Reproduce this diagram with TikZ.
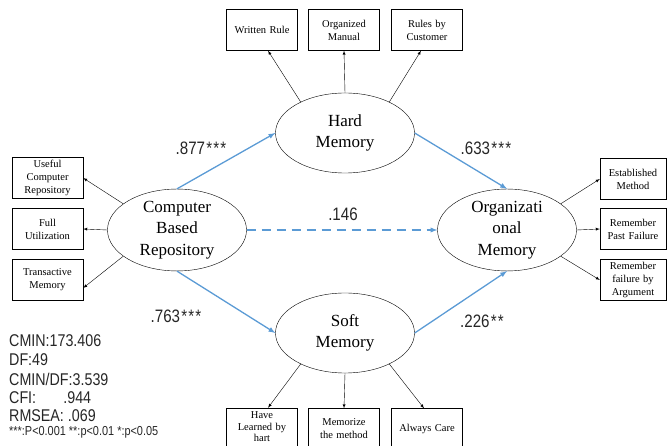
\documentclass[tikz,border=0pt]{standalone}
\usepackage{fontspec}
\setmainfont{Liberation Serif}
\newfontfamily\statfont[FakeStretch=0.84]{Liberation Sans}
\usetikzlibrary{shapes.geometric}
\usetikzlibrary{arrows}
\usepackage{xcolor}
\definecolor{pathblue}{HTML}{5B9BD5}
\newcommand{\sig}[1]{\foreach \s in {1,...,#1}{\hspace{1.2pt}*}}

\begin{document}
\begin{tikzpicture}[x=1pt,y=-1pt,
            latent/.style = {draw, ellipse, minimum width=139pt, minimum height=80pt,
                inner sep=0pt, align=center, font=\fontsize{17}{21.5}\selectfont},
            item/.style = {draw, rectangle, minimum width=71pt, minimum height=41pt,
                text width=68pt, inner sep=1pt, align=center, font=\fontsize{10.5}{13}\selectfont},
            load/.style = {-latex, thin},
            effect/.style = {-latex, pathblue, line width=1.3pt},
            coef/.style = {font=\statfont\fontsize{18}{20}\selectfont, inner sep=0pt, text=black!85},
            stat/.style = {anchor=west, inner sep=0pt, text=black!85, font=\statfont\fontsize{17}{19}\selectfont}
            ]
            \clip (0,0) rectangle (670,446);
            \useasboundingbox (0,0) rectangle (670,446);

            % latent variables
            \node[latent] (cbr) at (177,230) {Computer\\Based\\Repository};
            \node[latent] (hard) at (345,133) {Hard\\Memory};
            \node[latent] (soft) at (345,333) {Soft\\Memory};
            \node[latent] (org) at (507,230) {Organizati\\onal\\Memory};

            % observed items
            \node[item] (ucr) at (47.5,178) {Useful\\Computer\\Repository};
            \node[item] (fu) at (47.5,229) {Full\\Utilization};
            \node[item] (tm) at (47.5,280) {Transactive\\Memory};

            \node[item] (wr) at (262,30) {Written Rule};
            \node[item] (om) at (344,30) {Organized\\Manual};
            \node[item] (rc) at (427,30) {Rules by\\Customer};

            \node[item, minimum width=66pt, text width=64pt] (em) at (633,179) {Established\\Method};
            \node[item, minimum width=66pt, text width=64pt] (rpf) at (633,229) {Remember\\Past Failure};
            \node[item, minimum width=66pt, text width=64pt] (rfa) at (633,280) {Remember\\failure by\\Argument};

            \node[item, minimum height=38pt, font=\fontsize{10.5}{11.5}\selectfont] (hl) at (262,427) {Have\\Learned by\\hart};
            \node[item] (mm) at (344,429) {Memorize\\the method};
            \node[item] (ac) at (427,429) {Always Care};

            % loadings
            \draw[load] (cbr.154) -- (ucr.east);
            \draw[load] (cbr.west) -- (fu.east);
            \draw[load] (cbr.206) -- ([yshift=-8pt]tm.east);
            \draw[load] (hard.145) -- ([xshift=6pt]wr.south);
            \draw[load] (hard.north) -- (om.south);
            \draw[load] (hard.35) -- ([xshift=-6pt]rc.south);
            \draw[load] (org.26) -- (em.west);
            \draw[load] (org.east) -- (rpf.west);
            \draw[load] (org.334) -- (rfa.west);
            \draw[load] (soft.215) -- ([xshift=6pt]hl.north);
            \draw[load] (soft.south) -- (mm.north);
            \draw[load] (soft.325) -- ([xshift=-3pt]ac.north);

            % structural paths
            \draw[effect] (cbr.north) -- (hard.west);
            \draw[effect] (hard.east) -- (org.north);
            \draw[effect] (cbr.south) -- (soft.west);
            \draw[effect] (soft.east) -- (org.south);
            \draw[effect, dashed, dash pattern=on 9pt off 6pt] (cbr.east) -- (org.west);

            \node[coef] (c1) at (201,148) {.877\sig{3}};
            \node[coef] (c2) at (486,148) {.633\sig{3}};
            \node[coef] (c3) at (343,214) {.146};
            \node[coef] (c4) at (176,316) {.763\sig{3}};
            \node[coef] (c5) at (482,321) {.226\sig{2}};

            % fit indices
            \node[stat] (s1) at (9,341) {CMIN:173.406};
            \node[stat] (s2) at (9,360) {DF:49};
            \node[stat] (s3) at (9,379) {CMIN/DF:3.539};
            \node[stat] (s4) at (9,398) {CFI:\hspace{1.6em}.944};
            \node[stat] (s5) at (9,416) {RMSEA: .069};
            \node[stat, font=\statfont\fontsize{13}{14}\selectfont] (s6) at (9,432) {***:P<0.001 **:p<0.01 *:p<0.05};
        \end{tikzpicture}
\end{document}
